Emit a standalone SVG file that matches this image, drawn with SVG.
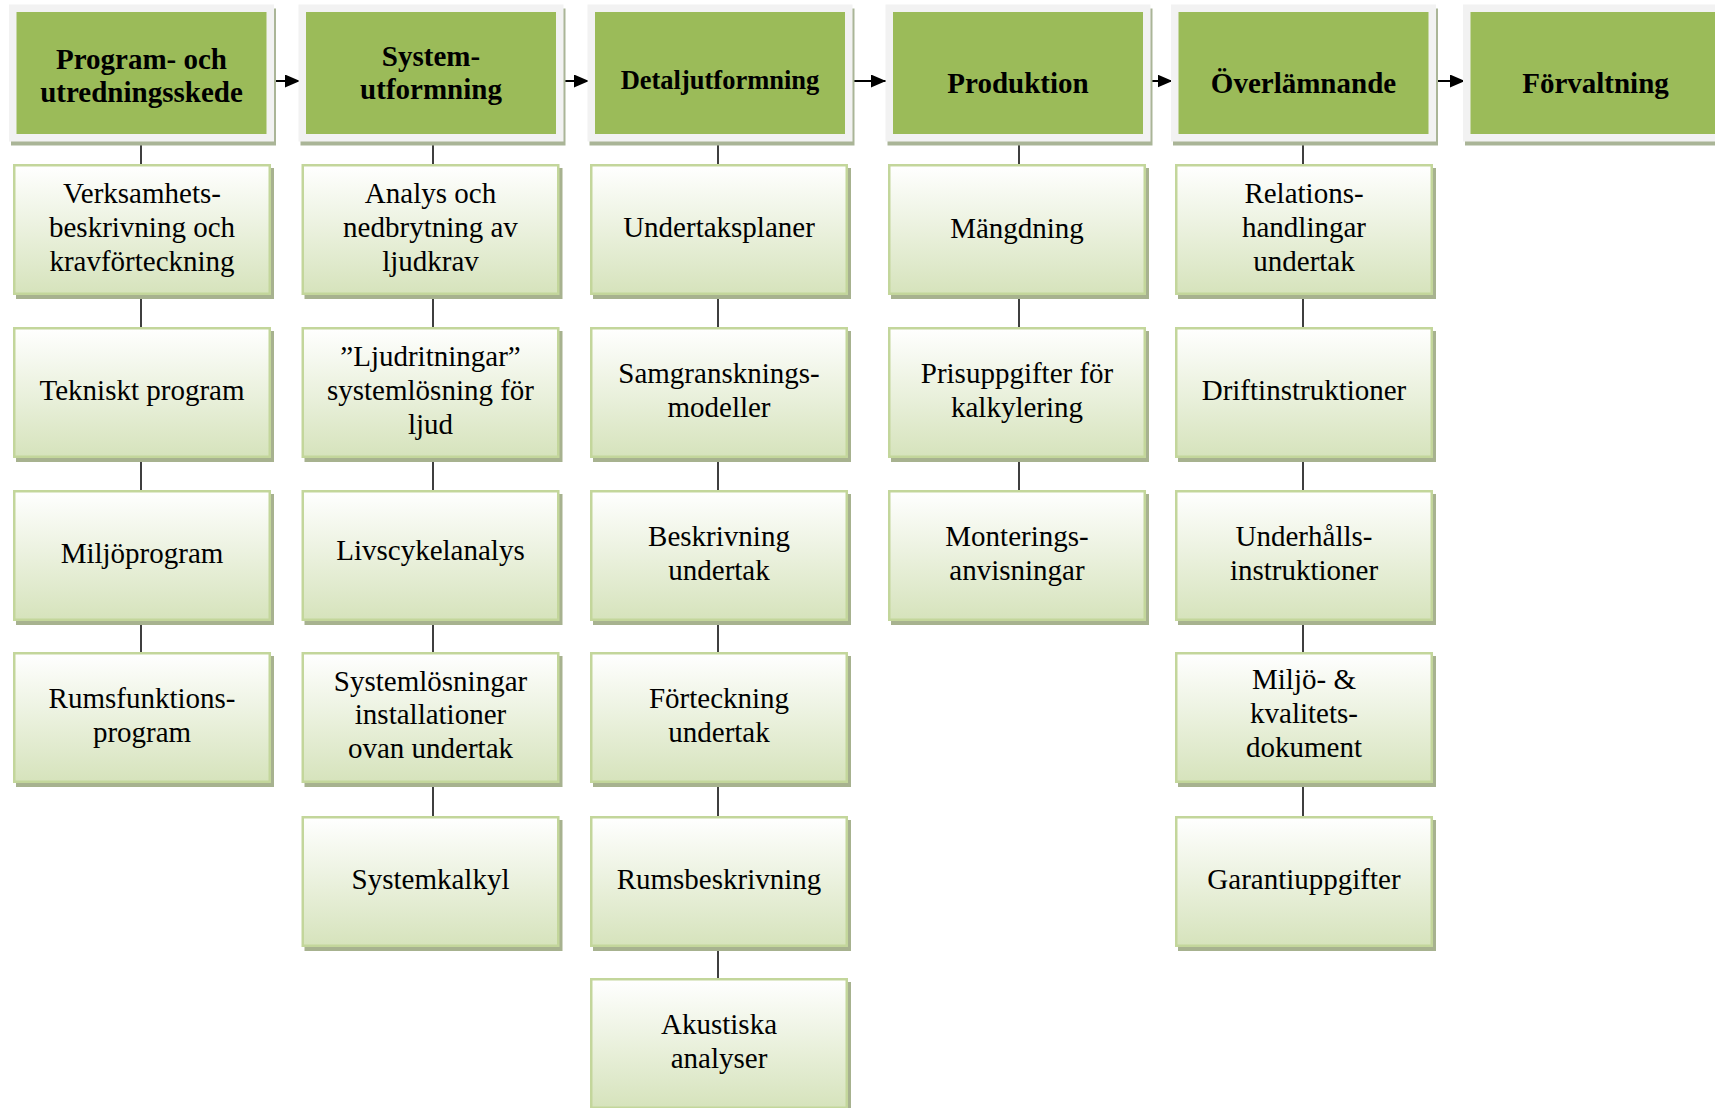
<svg xmlns="http://www.w3.org/2000/svg" width="1715" height="1108" viewBox="0 0 1715 1108">
<defs>
<linearGradient id="cg" x1="0" y1="0" x2="0" y2="1">
<stop offset="0" stop-color="#ffffff"/>
<stop offset="1" stop-color="#d6e3bc"/>
</linearGradient>
<marker id="ah" markerUnits="userSpaceOnUse" markerWidth="16" markerHeight="13" refX="15" refY="6.5" orient="auto">
<path d="M0,0 L15,6.5 L0,13 z" fill="#000"/>
</marker>
<style>
.hs{fill:#aab597}
.hf{fill:#f2f2f2}
.hg{fill:#9bbb59}
.cs{fill:#a7b28f}
.cb{fill:url(#cg);stroke:#c3d69b;stroke-width:2.5}
.h{font-family:"Liberation Serif","Times New Roman",serif;font-weight:bold;font-size:29px;fill:#000;text-anchor:middle}
.c{font-family:"Liberation Serif","Times New Roman",serif;font-size:29px;fill:#000;text-anchor:middle}
.ln{stroke:#000;stroke-width:1.5;fill:none}
.ar{stroke:#000;stroke-width:2;fill:none}
</style>
</defs>
<rect width="1715" height="1108" fill="#fff"/>

<g id="connectors">
<path class="ar" d="M274,81 H300" marker-end="url(#ah)"/>
<path class="ar" d="M563.5,81 H589" marker-end="url(#ah)"/>
<path class="ar" d="M852.5,81 H886" marker-end="url(#ah)"/>
<path class="ar" d="M1150.5,81 H1172.5" marker-end="url(#ah)"/>
<path class="ar" d="M1436,81 H1465" marker-end="url(#ah)"/>
<path class="ln" d="M141,141.5 V164 M141,295 V327 M141,458 V490 M141,621 V652"/>
<path class="ln" d="M433,141.5 V164 M433,295 V327 M433,458 V490 M433,621 V652 M433,783 V816"/>
<path class="ln" d="M718,141.5 V164 M718,295 V327 M718,458 V490 M718,621 V652 M718,783 V816 M718,947 V978"/>
<path class="ln" d="M1019,141.5 V164 M1019,295 V327 M1019,458 V490"/>
<path class="ln" d="M1303,141.5 V164 M1303,295 V327 M1303,458 V490 M1303,621 V652 M1303,783 V816"/>
</g>

<g id="h1"><rect class="hs" x="11" y="8.5" width="265" height="137"/><rect class="hf" x="9" y="4.5" width="265" height="137"/><rect class="hg" x="16.5" y="12" width="250" height="122"/>
<text class="h" x="141.5" y="69">Program- och</text><text class="h" x="141.5" y="101.5">utredningsskede</text></g>
<g id="h2"><rect class="hs" x="300.5" y="8.5" width="265" height="137"/><rect class="hf" x="298.5" y="4.5" width="265" height="137"/><rect class="hg" x="306" y="12" width="250" height="122"/>
<text class="h" x="431" y="65.5">System-</text><text class="h" x="431" y="98.5">utformning</text></g>
<g id="h3"><rect class="hs" x="589.5" y="8.5" width="265" height="137"/><rect class="hf" x="587.5" y="4.5" width="265" height="137"/><rect class="hg" x="595" y="12" width="250" height="122"/>
<text class="h" x="720" y="89" style="font-size:26.5px">Detaljutformning</text></g>
<g id="h4"><rect class="hs" x="887.5" y="8.5" width="265" height="137"/><rect class="hf" x="885.5" y="4.5" width="265" height="137"/><rect class="hg" x="893" y="12" width="250" height="122"/>
<text class="h" x="1018" y="93">Produktion</text></g>
<g id="h5"><rect class="hs" x="1173" y="8.5" width="265" height="137"/><rect class="hf" x="1171" y="4.5" width="265" height="137"/><rect class="hg" x="1178.5" y="12" width="250" height="122"/>
<text class="h" x="1303.5" y="93">Överlämnande</text></g>
<g id="h6"><rect class="hs" x="1465" y="8.5" width="265" height="137"/><rect class="hf" x="1463" y="4.5" width="265" height="137"/><rect class="hg" x="1470.5" y="12" width="250" height="122"/>
<text class="h" x="1595.5" y="93">Förvaltning</text></g>

<g id="c1r1"><rect class="cs" x="16" y="168" width="258" height="131"/><rect class="cb" x="14.25" y="165.25" width="255.5" height="128.5"/>
<text class="c" x="142" y="202.5">Verksamhets-</text><text class="c" x="142" y="236.5">beskrivning och</text><text class="c" x="142" y="270.5">kravförteckning</text></g>
<g id="c1r2"><rect class="cs" x="16" y="331" width="258" height="131"/><rect class="cb" x="14.25" y="328.25" width="255.5" height="128.5"/>
<text class="c" x="142" y="399.5">Tekniskt program</text></g>
<g id="c1r3"><rect class="cs" x="16" y="494" width="258" height="131"/><rect class="cb" x="14.25" y="491.25" width="255.5" height="128.5"/>
<text class="c" x="142" y="562.5">Miljöprogram</text></g>
<g id="c1r4"><rect class="cs" x="16" y="656" width="258" height="131"/><rect class="cb" x="14.25" y="653.25" width="255.5" height="128.5"/>
<text class="c" x="142" y="707.5">Rumsfunktions-</text><text class="c" x="142" y="741.5">program</text></g>

<g id="c2r1"><rect class="cs" x="304.5" y="168" width="258" height="131"/><rect class="cb" x="302.75" y="165.25" width="255.5" height="128.5"/>
<text class="c" x="430.5" y="202.5">Analys och</text><text class="c" x="430.5" y="236.5">nedbrytning av</text><text class="c" x="430.5" y="270.5">ljudkrav</text></g>
<g id="c2r2"><rect class="cs" x="304.5" y="331" width="258" height="131"/><rect class="cb" x="302.75" y="328.25" width="255.5" height="128.5"/>
<text class="c" x="430.5" y="365.5">”Ljudritningar”</text><text class="c" x="430.5" y="399.5">systemlösning för</text><text class="c" x="430.5" y="433.5">ljud</text></g>
<g id="c2r3"><rect class="cs" x="304.5" y="494" width="258" height="131"/><rect class="cb" x="302.75" y="491.25" width="255.5" height="128.5"/>
<text class="c" x="430.5" y="560">Livscykelanalys</text></g>
<g id="c2r4"><rect class="cs" x="304.5" y="656" width="258" height="131"/><rect class="cb" x="302.75" y="653.25" width="255.5" height="128.5"/>
<text class="c" x="430.5" y="690.5">Systemlösningar</text><text class="c" x="430.5" y="723.5">installationer</text><text class="c" x="430.5" y="757.5">ovan undertak</text></g>
<g id="c2r5"><rect class="cs" x="304.5" y="820" width="258" height="131"/><rect class="cb" x="302.75" y="817.25" width="255.5" height="128.5"/>
<text class="c" x="430.5" y="888.5">Systemkalkyl</text></g>

<g id="c3r1"><rect class="cs" x="593" y="168" width="258" height="131"/><rect class="cb" x="591.25" y="165.25" width="255.5" height="128.5"/>
<text class="c" x="719" y="236.5">Undertaksplaner</text></g>
<g id="c3r2"><rect class="cs" x="593" y="331" width="258" height="131"/><rect class="cb" x="591.25" y="328.25" width="255.5" height="128.5"/>
<text class="c" x="719" y="382.5">Samgransknings-</text><text class="c" x="719" y="416.5">modeller</text></g>
<g id="c3r3"><rect class="cs" x="593" y="494" width="258" height="131"/><rect class="cb" x="591.25" y="491.25" width="255.5" height="128.5"/>
<text class="c" x="719" y="545.5">Beskrivning</text><text class="c" x="719" y="579.5">undertak</text></g>
<g id="c3r4"><rect class="cs" x="593" y="656" width="258" height="131"/><rect class="cb" x="591.25" y="653.25" width="255.5" height="128.5"/>
<text class="c" x="719" y="707.5">Förteckning</text><text class="c" x="719" y="741.5">undertak</text></g>
<g id="c3r5"><rect class="cs" x="593" y="820" width="258" height="131"/><rect class="cb" x="591.25" y="817.25" width="255.5" height="128.5"/>
<text class="c" x="719" y="888.5">Rumsbeskrivning</text></g>
<g id="c3r6"><rect class="cs" x="593" y="982" width="258" height="131"/><rect class="cb" x="591.25" y="979.25" width="255.5" height="128.5"/>
<text class="c" x="719" y="1033.5">Akustiska</text><text class="c" x="719" y="1067.5">analyser</text></g>

<g id="c4r1"><rect class="cs" x="891" y="168" width="258" height="131"/><rect class="cb" x="889.25" y="165.25" width="255.5" height="128.5"/>
<text class="c" x="1017" y="238">Mängdning</text></g>
<g id="c4r2"><rect class="cs" x="891" y="331" width="258" height="131"/><rect class="cb" x="889.25" y="328.25" width="255.5" height="128.5"/>
<text class="c" x="1017" y="382.5">Prisuppgifter för</text><text class="c" x="1017" y="416.5">kalkylering</text></g>
<g id="c4r3"><rect class="cs" x="891" y="494" width="258" height="131"/><rect class="cb" x="889.25" y="491.25" width="255.5" height="128.5"/>
<text class="c" x="1017" y="545.5">Monterings-</text><text class="c" x="1017" y="579.5">anvisningar</text></g>

<g id="c5r1"><rect class="cs" x="1178" y="168" width="258" height="131"/><rect class="cb" x="1176.25" y="165.25" width="255.5" height="128.5"/>
<text class="c" x="1304" y="202.5">Relations-</text><text class="c" x="1304" y="236.5">handlingar</text><text class="c" x="1304" y="270.5">undertak</text></g>
<g id="c5r2"><rect class="cs" x="1178" y="331" width="258" height="131"/><rect class="cb" x="1176.25" y="328.25" width="255.5" height="128.5"/>
<text class="c" x="1304" y="399.5">Driftinstruktioner</text></g>
<g id="c5r3"><rect class="cs" x="1178" y="494" width="258" height="131"/><rect class="cb" x="1176.25" y="491.25" width="255.5" height="128.5"/>
<text class="c" x="1304" y="545.5">Underhålls-</text><text class="c" x="1304" y="579.5">instruktioner</text></g>
<g id="c5r4"><rect class="cs" x="1178" y="656" width="258" height="131"/><rect class="cb" x="1176.25" y="653.25" width="255.5" height="128.5"/>
<text class="c" x="1304" y="689">Miljö- &amp;</text><text class="c" x="1304" y="723">kvalitets-</text><text class="c" x="1304" y="757">dokument</text></g>
<g id="c5r5"><rect class="cs" x="1178" y="820" width="258" height="131"/><rect class="cb" x="1176.25" y="817.25" width="255.5" height="128.5"/>
<text class="c" x="1304" y="888.5">Garantiuppgifter</text></g>
</svg>
